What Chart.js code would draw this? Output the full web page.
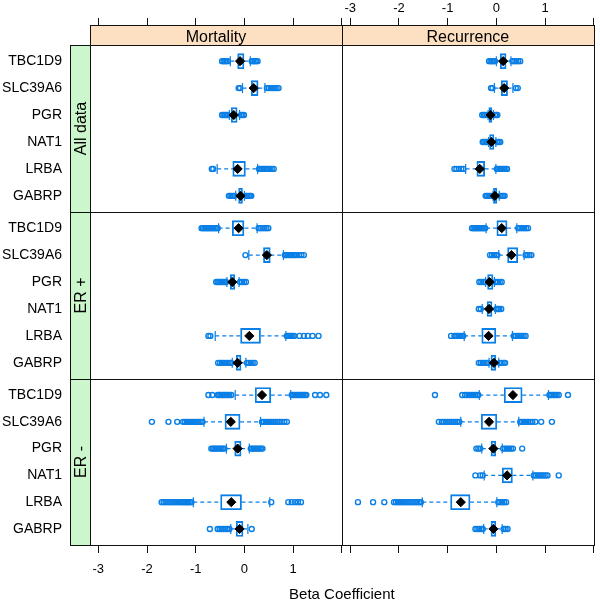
<!DOCTYPE html>
<html>
<head>
<meta charset="utf-8">
<script src="https://cdn.jsdelivr.net/npm/chart.js@4.4.1/dist/chart.umd.min.js"></script>
<style>
  body { margin: 0; background: #fff; }
  canvas { display: block; }
</style>
</head>
<body>
<canvas id="chart" width="600" height="604"></canvas>
<script>
const genes = ['TBC1D9', 'SLC39A6', 'PGR', 'NAT1', 'LRBA', 'GABRP'];
const outcomes = ['Mortality', 'Recurrence'];
const groups = ['All data', 'ER +', 'ER -'];
const xTicks = [-3, -2, -1, 0, 1, 2];

// per gene: [lower whisker, Q1, median, Q3, upper whisker], null = gene not in panel
const mortAll = [
    [-0.29, -0.14, -0.09, 0.00, 0.12],
    [-0.04, 0.14, 0.19, 0.28, 0.42],
    [-0.31, -0.27, -0.22, -0.15, -0.10],
    null,
    [-0.56, -0.24, -0.14, 0.02, 0.27],
    [-0.18, -0.12, -0.08, -0.04, 0.00]
];
const mortAllOut = [
    [-0.46, -0.43, -0.40, -0.37, -0.34, 0.15, 0.18, 0.21, 0.24, 0.27],
    [-0.12, -0.09, 0.46, 0.50, 0.54, 0.58, 0.62, 0.66, 0.70],
    [-0.46, -0.43, -0.40, -0.37, -0.34, -0.07, -0.04, -0.01],
    [],
    [-0.67, -0.64, 0.30, 0.33, 0.36, 0.39, 0.42, 0.45, 0.48, 0.52, 0.56, 0.60],
    [-0.32, -0.29, -0.26, -0.23, -0.20, 0.03, 0.06, 0.09, 0.12, 0.14]
];

const recAll = [
    [0.00, 0.08, 0.14, 0.20, 0.30],
    [-0.04, 0.10, 0.16, 0.23, 0.34],
    [-0.17, -0.155, -0.12, -0.09, -0.06],
    [-0.16, -0.14, -0.10, -0.05, -0.01],
    [-0.63, -0.40, -0.34, -0.24, -0.01],
    [-0.07, -0.06, -0.03, 0.01, 0.06]
];
const recAllOut = [
    [-0.15, -0.12, -0.09, -0.06, -0.03, 0.33, 0.37, 0.41, 0.45, 0.49],
    [-0.11, -0.08, 0.40, 0.44],
    [-0.29, -0.26, -0.23, -0.20, -0.03, 0.00, 0.02],
    [-0.28, -0.25, -0.22, -0.19, 0.02, 0.05, 0.08],
    [-0.86, -0.82, -0.77, -0.72, -0.68, 0.01, 0.04, 0.07, 0.10, 0.13, 0.16, 0.19, 0.22],
    [-0.22, -0.19, -0.16, -0.13, -0.10, 0.08, 0.11, 0.14, 0.17]
];

const mortPos = [
    [-0.53, -0.25, -0.12, 0.00, 0.26],
    [0.09, 0.39, 0.46, 0.53, 0.80],
    [-0.36, -0.29, -0.25, -0.20, -0.11],
    null,
    [-0.60, -0.08, 0.10, 0.33, 0.85],
    [-0.25, -0.17, -0.14, -0.07, 0.03]
];
const mortPosOut = [
    [-0.88, -0.85, -0.82, -0.79, -0.76, -0.73, -0.70, -0.67, -0.64, -0.61, -0.58, -0.55, 0.29, 0.33, 0.37, 0.41, 0.45, 0.49],
    [0.02, 0.83, 0.86, 0.89, 0.92, 0.95, 0.98, 1.01, 1.04, 1.07, 1.12, 1.17, 1.22],
    [-0.58, -0.55, -0.52, -0.49, -0.46, -0.43, -0.40, -0.38, -0.09, -0.05, -0.01, 0.03],
    [],
    [-0.74, -0.70, 0.87, 0.90, 0.93, 0.96, 0.99, 1.02, 1.13, 1.22, 1.30, 1.40, 1.52],
    [-0.54, -0.50, -0.46, -0.42, -0.38, -0.34, -0.30, -0.27, 0.05, 0.09, 0.13, 0.17, 0.21]
];

const recPos = [
    [-0.21, 0.01, 0.11, 0.22, 0.42],
    [0.05, 0.23, 0.31, 0.44, 0.57],
    [-0.22, -0.18, -0.14, -0.07, -0.04],
    [-0.29, -0.19, -0.15, -0.09, -0.02],
    [-0.66, -0.30, -0.16, -0.01, 0.33],
    [-0.15, -0.11, -0.05, 0.00, 0.05]
];
const recPosOut = [
    [-0.50, -0.47, -0.44, -0.41, -0.38, -0.35, -0.32, -0.29, -0.26, -0.23, 0.45, 0.49, 0.53, 0.57, 0.61, 0.65],
    [-0.13, -0.09, -0.05, -0.01, 0.02, 0.60, 0.64, 0.68, 0.72],
    [-0.35, -0.31, -0.27, -0.24, -0.01, 0.03, 0.07, 0.11],
    [-0.36, -0.32, 0.00, 0.03, 0.06, 0.10],
    [-0.93, -0.86, -0.83, -0.80, -0.77, -0.74, -0.71, -0.68, 0.36, 0.40, 0.44, 0.48, 0.52, 0.56, 0.60],
    [-0.36, -0.32, -0.28, -0.24, -0.20, -0.17, 0.07, 0.11, 0.15, 0.18]
];

const mortNeg = [
    [-0.19, 0.22, 0.36, 0.54, 0.95],
    [-0.83, -0.40, -0.28, -0.09, 0.33],
    [-0.37, -0.20, -0.14, -0.07, 0.10],
    null,
    [-1.05, -0.49, -0.27, -0.06, 0.52],
    [-0.28, -0.17, -0.10, -0.03, 0.07]
];
const mortNegOut = [
    [-0.74, -0.66, -0.55, -0.52, -0.49, -0.46, -0.43, -0.40, -0.37, -0.34, -0.31, -0.27, 0.97, 1.00, 1.03, 1.06, 1.09, 1.12, 1.15, 1.18, 1.21, 1.24, 1.27, 1.45, 1.55, 1.68],
    [-1.90, -1.56, -1.38, -1.26, -1.22, -1.18, -1.14, -1.10, -1.06, -1.02, -0.98, -0.94, -0.90, -0.86, 0.36, 0.40, 0.44, 0.48, 0.52, 0.56, 0.60, 0.64, 0.68, 0.72, 0.77, 0.82, 0.87],
    [-0.68, -0.65, -0.62, -0.59, -0.56, -0.53, -0.50, -0.47, -0.44, -0.41, 0.13, 0.16, 0.19, 0.22, 0.25, 0.28, 0.31, 0.34, 0.37],
    [],
    [-1.70, -1.66, -1.62, -1.58, -1.54, -1.50, -1.46, -1.42, -1.38, -1.34, -1.30, -1.27, -1.24, -1.21, -1.18, -1.15, -1.12, -1.09, 0.55, 0.90, 0.97, 1.04, 1.10, 1.16],
    [-0.71, -0.55, -0.51, -0.47, -0.43, -0.39, -0.35, -0.31, 0.15]
];

const recNeg = [
    [-0.35, 0.16, 0.34, 0.53, 1.07],
    [-0.73, -0.31, -0.15, 0.01, 0.46],
    [-0.30, -0.11, -0.06, 0.00, 0.12],
    [-0.25, 0.12, 0.22, 0.33, 0.75],
    [-1.52, -0.94, -0.73, -0.54, 0.01],
    [-0.26, -0.11, -0.06, 0.00, 0.12]
];
const recNegOut = [
    [-1.26, -0.70, -0.64, -0.60, -0.56, -0.52, -0.48, -0.44, -0.40, -0.37, 1.09, 1.12, 1.15, 1.18, 1.21, 1.24, 1.28, 1.47],
    [-1.18, -1.12, -1.08, -1.04, -1.00, -0.96, -0.92, -0.88, -0.84, -0.80, -0.76, 0.49, 0.53, 0.57, 0.61, 0.65, 0.69, 0.74, 0.80, 0.92, 1.14],
    [-0.41, -0.37, -0.33, 0.14, 0.18, 0.22, 0.26, 0.30, 0.34, 0.53],
    [-0.43, -0.33, -0.28, 0.77, 0.81, 0.85, 0.89, 0.93, 0.97, 1.01, 1.05, 1.28],
    [-2.84, -2.53, -2.30, -2.10, -2.06, -2.02, -1.98, -1.94, -1.90, -1.86, -1.82, -1.78, -1.74, -1.70, -1.66, -1.62, -1.58, -1.55, 0.04, 0.08, 0.12, 0.16, 0.20],
    [-0.43, -0.39, -0.35, -0.31, -0.28, 0.15, 0.19, 0.23]
];

const xMin = -3.17;
const xMax = 2;
const blue = '#0a7fe6';
const frame = '#111';

Chart.defaults.font.family = '"Liberation Sans", Arial, sans-serif';
Chart.defaults.color = '#000';

function boxplotSets(stats, out, xID, yID) {
    const boxes = [], whisk = [], caps = [], meds = [], pts = [];
    stats.forEach((s, i) => {
        if (!s) return;
        const y = i + 1;
        boxes.push({ x: [s[1], s[3]], y: y });
        whisk.push({ x: s[0], y: y }, { x: s[1], y: y }, { x: null, y: null },
                   { x: s[3], y: y }, { x: s[4], y: y }, { x: null, y: null });
        caps.push({ x: s[0], y: y }, { x: s[4], y: y });
        meds.push({ x: s[2], y: y });
        out[i].forEach(v => pts.push({ x: v, y: y }));
    });
    const ax = { xAxisID: xID, yAxisID: yID };
    return [
        { type: 'scatter', data: meds, order: 0, pointStyle: 'rectRot', pointRadius: 4.6,
          pointBackgroundColor: '#000', pointBorderColor: '#000', pointBorderWidth: 1, ...ax },
        { type: 'scatter', data: caps, order: 1, pointStyle: 'line', pointRotation: 90, pointRadius: 5,
          pointBorderColor: blue, pointBorderWidth: 1.2, ...ax },
        { type: 'bar', data: boxes, order: 2, indexAxis: 'y', grouped: false, barThickness: 15,
          backgroundColor: 'rgba(0,0,0,0)', borderColor: blue, borderWidth: 1.2, borderSkipped: false, ...ax },
        { type: 'line', data: whisk, order: 3, borderColor: blue, borderWidth: 1.2, borderDash: [4, 3],
          pointRadius: 0, spanGaps: false, ...ax },
        { type: 'scatter', data: pts, order: 4, pointStyle: 'circle', pointRadius: 2.5,
          pointBorderColor: blue, pointBackgroundColor: 'rgba(0,0,0,0)', pointBorderWidth: 1.4, ...ax }
    ];
}

const datasets = [].concat(
    boxplotSets(mortAll, mortAllOut, 'xb0', 'y0'),
    boxplotSets(recAll, recAllOut, 'xb1', 'y0'),
    boxplotSets(mortPos, mortPosOut, 'xb0', 'y1'),
    boxplotSets(recPos, recPosOut, 'xb1', 'y1'),
    boxplotSets(mortNeg, mortNegOut, 'xb0', 'y2'),
    boxplotSets(recNeg, recNegOut, 'xb1', 'y2')
);

function xAxis(position, stack, showLabels) {
    const top = position === 'top';
    return {
        type: 'linear', axis: 'x', position: position, stack: stack, stackWeight: 1,
        min: xMin, max: xMax, offset: false, beginAtZero: false,
        afterBuildTicks: s => { s.ticks = xTicks.map(v => ({ value: v })); },
        afterFit: s => { s.height = top ? 25 : 36; },
        ticks: {
            display: showLabels, padding: 0, autoSkip: false, maxRotation: 0, color: '#000',
            font: { size: 13, lineHeight: top ? 1.54 : 2.6 },
            callback: v => (v === xMax ? '' : String(v))
        },
        grid: { display: true, drawOnChartArea: false, drawTicks: true, offset: false,
                tickLength: top ? 7 : 8, color: frame, lineWidth: 1 },
        border: { display: false }
    };
}

function yAxis(weight) {
    return {
        type: 'linear', axis: 'y', position: 'left', stack: 'rows', stackWeight: weight,
        min: 0.4, max: 6.6, reverse: true, offset: false, beginAtZero: false,
        afterBuildTicks: s => { s.ticks = genes.map((g, i) => ({ value: i + 1 })); },
        afterFit: s => { s.width = 90; },
        ticks: { padding: 0, autoSkip: false, color: '#000', font: { size: 14 },
                 callback: v => genes[v - 1] },
        // transparent tick marks leave room for the side strip
        grid: { display: true, drawOnChartArea: false, drawTicks: true, offset: false,
                tickLength: 28, color: 'rgba(0,0,0,0)' },
        border: { display: false }
    };
}

const stripPlugin = {
    id: 'latticeStrips',
    afterDraw(chart) {
        const { ctx, scales, chartArea } = chart;
        const px = v => Math.round(v) + 0.5;
        const box = (l, t, r, b, fill) => {
            const x0 = px(l), y0 = px(t), x1 = px(r), y1 = px(b);
            if (fill) {
                ctx.fillStyle = fill;
                ctx.fillRect(x0, y0, x1 - x0, y1 - y0);
            }
            ctx.strokeRect(x0, y0, x1 - x0, y1 - y0);
        };
        ctx.save();
        ctx.lineWidth = 1;
        ctx.strokeStyle = frame;
        ctx.font = '16px "Liberation Sans", Arial, sans-serif';
        ctx.textAlign = 'center';
        ctx.textBaseline = 'middle';

        const strip = scales.yS;
        outcomes.forEach((name, c) => {
            const xs = scales['xb' + c];
            box(xs.left, strip.top, xs.right, strip.bottom, '#fddfc2');
            ctx.fillStyle = '#000';
            ctx.fillText(name, (xs.left + xs.right) / 2, strip.bottom - 7.5);
        });

        groups.forEach((name, r) => {
            const ys = scales['y' + r];
            box(chartArea.left - 20, ys.top, chartArea.left, ys.bottom, '#ccf7cc');
            ctx.save();
            ctx.translate(chartArea.left - 8, (ys.top + ys.bottom) / 2);
            ctx.rotate(-Math.PI / 2);
            ctx.fillStyle = '#000';
            ctx.fillText(name, 0, 0);
            ctx.restore();
            outcomes.forEach((o, c) => {
                const xs = scales['xb' + c];
                box(xs.left, ys.top, xs.right, ys.bottom, null);
            });
        });
        ctx.restore();
    }
};

new Chart(document.getElementById('chart'), {
    type: 'bar',
    data: { datasets: datasets },
    options: {
        responsive: false,
        animation: false,
        events: [],
        layout: { padding: { left: 0, right: 3, top: 0, bottom: 0 } },
        plugins: {
            legend: { display: false },
            tooltip: { enabled: false },
            title: {
                display: true, text: 'Beta Coefficient', position: 'bottom', fullSize: false,
                color: '#000', font: { size: 15, weight: 'normal' }, padding: { top: 5, bottom: 0 }
            }
        },
        scales: {
            // order matters: left and top stacks are laid out in reverse order
            y2: yAxis(166),
            y1: yAxis(167),
            y0: yAxis(167),
            yS: {
                type: 'linear', axis: 'y', position: 'left', stack: 'rows', stackWeight: 20,
                min: 0, max: 1, afterFit: s => { s.width = 90; },
                ticks: { display: false }, grid: { display: false }, border: { display: false }
            },
            xt1: xAxis('top', 'colsTop', true),
            xt0: xAxis('top', 'colsTop', false),
            xb0: xAxis('bottom', 'cols', true),
            xb1: xAxis('bottom', 'cols', false)
        }
    },
    plugins: [stripPlugin]
});
</script>
</body>
</html>
